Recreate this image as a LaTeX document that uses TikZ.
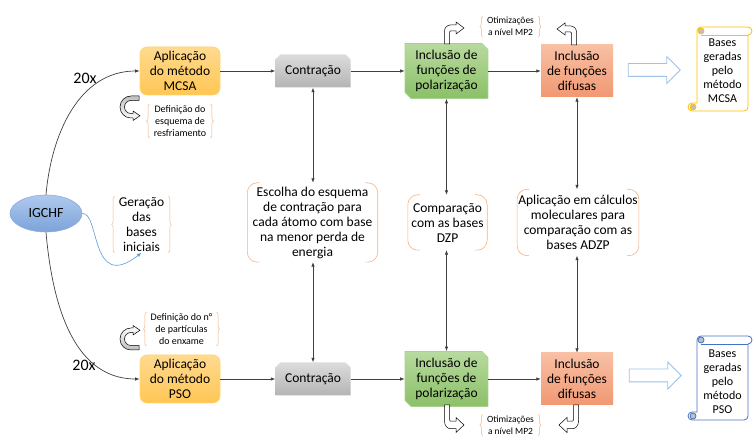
\documentclass[tikz,border=0pt]{standalone}
\usepackage{fontspec}
\setmainfont{Carlito}
\usetikzlibrary{shapes.geometric,shapes.misc,shapes.arrows,decorations.pathreplacing,arrows.meta}
\definecolor{linegray}{HTML}{404040}
\definecolor{bracecol}{HTML}{F4B183}
\definecolor{methodtop}{HTML}{FFDA8F}
\definecolor{methodbot}{HTML}{FFC654}
\definecolor{methodline}{HTML}{FFD66E}
\definecolor{contrtop}{HTML}{DCDCDC}
\definecolor{contrbot}{HTML}{B4B4B4}
\definecolor{poltop}{HTML}{B8DA9F}
\definecolor{polbot}{HTML}{8BC068}
\definecolor{polline}{HTML}{A9D18E}
\definecolor{diftop}{HTML}{F8C0A4}
\definecolor{difbot}{HTML}{F19872}
\definecolor{igtop}{HTML}{AFC9EE}
\definecolor{igbot}{HTML}{7CA3D9}
\definecolor{igline}{HTML}{8FAADC}
\definecolor{blockblue}{HTML}{9DC3E6}
\definecolor{thinblue}{HTML}{5B9BD5}
\definecolor{scrollgold}{HTML}{FFC000}
\definecolor{scrollblue}{HTML}{4472C4}
\definecolor{curlgray}{HTML}{BFBFBF}
\tikzset{
  bigtext/.style={font=\fontsize{13.5}{15}\selectfont},
  smalltext/.style={font=\fontsize{10}{12.3}\selectfont},
  flow/.style={draw=linegray, line width=0.7pt, -{Latex[length=4.5pt,width=3.5pt]}},
  twoway/.style={draw=linegray, line width=0.7pt, {Latex[length=4.5pt,width=3.5pt]}-{Latex[length=4.5pt,width=3.5pt]}},
  method/.style={rectangle, rounded corners=7pt, draw=methodline, line width=0.6pt, top color=methodtop, bottom color=methodbot, minimum width=80, minimum height=48, inner sep=1pt, align=center, bigtext},
  contraction/.style={chamfered rectangle, chamfered rectangle corners={north west,north east}, chamfered rectangle xsep=2.5pt, chamfered rectangle ysep=2.5pt, top color=contrtop, bottom color=contrbot, minimum width=75, minimum height=33, inner sep=1pt, bigtext},
  polar/.style={chamfered rectangle, chamfered rectangle corners={north east,south west}, chamfered rectangle xsep=3pt, chamfered rectangle ysep=3pt, draw=polline, line width=0.6pt, top color=poltop, bottom color=polbot, minimum width=83, minimum height=55, inner sep=1pt, align=center, bigtext},
  diffuse/.style={rectangle, top color=diftop, bottom color=difbot, minimum width=72, minimum height=52, inner sep=1pt, align=center, bigtext},
  curly/.style={align=center, inner xsep=4pt, inner ysep=1pt,
    append after command={\pgfextra{
      \draw[bracecol, line width=0.5pt, decorate, decoration={brace, amplitude=3pt}] (\tikzlastnode.south west) -- (\tikzlastnode.north west);
      \draw[bracecol, line width=0.5pt, decorate, decoration={brace, amplitude=3pt}] (\tikzlastnode.north east) -- (\tikzlastnode.south east);}}},
  roundpair/.style={align=center, inner sep=1pt, bigtext,
    append after command={\pgfextra{
      \draw[bracecol, line width=0.6pt, rounded corners=10pt] ([xshift=12pt]\tikzlastnode.north west) -- (\tikzlastnode.north west) -- (\tikzlastnode.south west) -- ([xshift=12pt]\tikzlastnode.south west);
      \draw[bracecol, line width=0.6pt, rounded corners=10pt] ([xshift=-12pt]\tikzlastnode.north east) -- (\tikzlastnode.north east) -- (\tikzlastnode.south east) -- ([xshift=-12pt]\tikzlastnode.south east);}}},
  blockarrow/.style={single arrow, draw=blockblue, line width=0.8pt, fill=white, minimum height=52, inner sep=6pt, single arrow head extend=7pt},
  scrolltext/.style={align=center, font=\fontsize{12}{14}\selectfont},
  bentarrow/.pic={
    \filldraw[fill=white, draw=black, line width=0.5pt] (-2.5,0) -- (-2.5,13) arc[start angle=180,end angle=90,radius=6] -- (9,19) -- (9,22) -- (17,16) -- (9,10) -- (9,13) -- (3.5,13) arc[start angle=90,end angle=180,radius=1] -- (2.5,0) -- cycle;},
  curlarrow/.pic={
    \draw[pic actions, draw=black, line width=0.5pt] (8,11) -- (0,11) arc[start angle=90,end angle=270,radius=11] -- (2,-11) -- (2,-13.5) -- (9,-8.75) -- (2,-4) -- (2,-6.5) -- (0,-6.5) arc[start angle=270,end angle=90,radius=6.5] -- (8,6.5) -- cycle;},
  scroll/.pic={
    \filldraw[fill=white, pic actions] (13,84) -- (60,84) arc[start angle=90,end angle=-90,radius=4] -- (60,4) arc[start angle=0,end angle=-90,radius=4] -- (4,0) arc[start angle=-90,end angle=-270,radius=4] -- (9,8) -- (9,80) arc[start angle=180,end angle=90,radius=4] -- cycle;
    \draw[pic actions] (13,76) -- (60,76);
    \filldraw[pic actions, fill=curlgray] (13,80) circle[radius=3];
    \filldraw[pic actions, fill=curlgray] (5,4) circle[radius=3];},
}
\begin{document}
\begin{tikzpicture}[x=1pt, y=1pt]
\useasboundingbox (0,0) rectangle (756,441);
% start and the two methods
\node[ellipse, draw=igline, line width=0.6pt, top color=igtop, bottom color=igbot, minimum width=72, minimum height=37, inner sep=0pt, font=\fontsize{14}{16}\selectfont] (igchf) at (46,227.5) {IGCHF};
\node[curly, bigtext] (gerar) at (141.5,216.5) {Geração\\das\\bases\\iniciais};
\node[method] (mcsa) at (180,370) {Aplicação\\do método\\MCSA};
\node[method] (pso) at (180,62) {Aplicação\\do método\\PSO};
\node[curly, smalltext] (resfr) at (180,320) {Definição do\\esquema de\\resfriamento};
\node[curly, smalltext] (enxame) at (181.5,112) {Definição do n°\\de partículas\\do enxame};
\node[font=\fontsize{16}{18}\selectfont] (vezes1) at (85,363) {20x};
\node[font=\fontsize{16}{18}\selectfont] (vezes2) at (84,76) {20x};
\pic[top color=curlgray, bottom color=white] at (131,334) {curlarrow};
\pic[yscale=-1, top color=white, bottom color=curlgray] at (131,102) {curlarrow};
% top row
\node[contraction] (contr1) at (313,370) {Contração};
\node[polar] (pol1) at (446.5,370) {Inclusão de\\funções de\\polarização};
\node[diffuse] (dif1) at (577,370) {Inclusão\\de funções\\difusas};
\node[curly, font=\fontsize{9.5}{12}\selectfont] (otim1) at (510.5,414.5) {Otimizações\\a nível MP2};
\pic at (447,397) {bentarrow};
\pic[xscale=-1] at (574,396) {bentarrow};
\node[blockarrow] (seta1) at (651,371) {};
\pic[draw=scrollgold, line width=0.8pt] at (688,330) {scroll};
\node[scrolltext] (bases1) at (722.5,370) {Bases\\geradas\\pelo\\método\\MCSA};
% bottom row
\node[contraction] (contr2) at (313,62) {Contração};
\node[polar] (pol2) at (446.5,62) {Inclusão de\\funções de\\polarização};
\node[diffuse] (dif2) at (577,62) {Inclusão\\de funções\\difusas};
\node[curly, font=\fontsize{9.5}{12}\selectfont] (otim2) at (510.5,16) {Otimizações\\a nível MP2};
\pic[yscale=-1.25] at (447,36) {bentarrow};
\pic[xscale=-1, yscale=-1.25] at (576,36) {bentarrow};
\node[blockarrow] (seta2) at (652,65.5) {};
\pic[draw=scrollblue, line width=0.8pt] at (688,21) {scroll};
\node[scrolltext] (bases2) at (722.5,59) {Bases\\geradas\\pelo\\método\\PSO};
% middle
\node[roundpair, minimum width=130, minimum height=79] (escolha) at (312.5,218.5) {Escolha do esquema\\de contração para\\cada átomo com base\\na menor perda de\\energia};
\node[roundpair, minimum width=79, minimum height=55] (compar) at (447.5,218.5) {Comparação\\com as bases\\DZP};
\node[roundpair, minimum width=118, minimum height=66] (aplic) at (578,218.5) {Aplicação em cálculos\\moleculares para\\comparação com as\\bases ADZP};
% connectors
\draw[flow] (igchf.north) to[out=85, in=180] (mcsa.west);
\draw[flow] (igchf.south) to[out=-85, in=180] (pso.west);
\draw[thinblue, line width=0.6pt, -{Latex[length=4.5pt,width=3.5pt]}] (igchf.east) .. controls (100,229) and (90,148) .. (gerar.south);
\draw[flow] (mcsa.east) -- (contr1.west);
\draw[flow] (contr1.east) -- (pol1.west);
\draw[flow] (pol1.east) -- (dif1.west);
\draw[flow] (pso.east) -- (contr2.west);
\draw[flow] (contr2.east) -- (pol2.west);
\draw[flow] (pol2.east) -- (dif2.west);
\draw[twoway] (contr1.south) -- (contr1.south |- escolha.north);
\draw[twoway] (contr2.north |- escolha.south) -- (contr2.north);
\draw[twoway] (pol1.south) -- (pol1.south |- compar.north);
\draw[twoway] (pol2.north |- compar.south) -- (pol2.north);
\draw[twoway] (dif1.south) -- (dif1.south |- aplic.north);
\draw[twoway] (dif2.north |- aplic.south) -- (dif2.north);
\end{tikzpicture}
\end{document}
